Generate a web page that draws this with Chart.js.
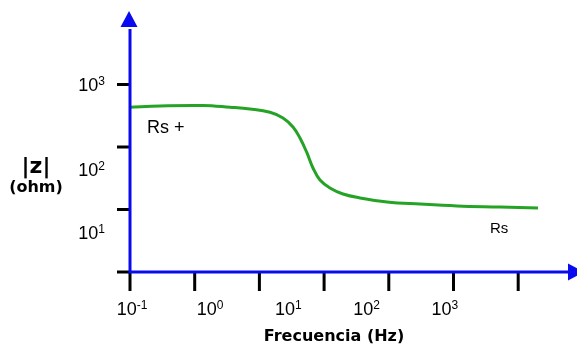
<!DOCTYPE html>
<html>
<head>
<meta charset="utf-8">
<script src="https://cdn.jsdelivr.net/npm/chart.js@4/dist/chart.umd.min.js"></script>
<style>
  html, body { margin: 0; padding: 0; background: #fff; }
  #wrap { width: 577px; height: 345px; }
</style>
</head>
<body>
<div id="wrap"><canvas id="bode" width="577" height="345"></canvas></div>
<script>
// Impedance magnitude |Z| (ohm) against frequency (Hz)
const freqHz = [0.1, 0.242, 0.858, 1.9, 3.43, 6.17, 9.05, 12.15, 14.93, 18.35, 21.9, 26.9, 36.1, 53.0, 87.4, 193.6, 512, 1521, 5395, 16520];
const impedanceOhm = [432, 453, 461, 432, 405, 359, 291, 209, 139, 80.2, 46.1, 29.6, 22.1, 17.7, 15.3, 13.2, 12.2, 11.4, 10.96, 10.57];

// Decade labels on each axis (powers of ten)
const xTickExponents = [-1, 0, 1, 2, 3];
const yTickExponents = [3, 2, 1];

// Texts
const xTitle = 'Frecuencia (Hz)';
const yTitle = ['|z|', '(ohm)'];
const curveNotes = ['Rs +', 'Rs'];

const LABEL_FONT = '"Liberation Sans", Arial, sans-serif';
const TITLE_FONT = '"DejaVu Sans", Verdana, sans-serif';

// draws "10" with a raised exponent; xPos is the centre or right edge
function drawPower(ctx, exp, xPos, baseline, align) {
  const base = '10', sup = String(exp);
  ctx.font = '18px ' + LABEL_FONT;
  const wb = ctx.measureText(base).width;
  ctx.font = '12px ' + LABEL_FONT;
  const ws = ctx.measureText(sup).width;
  const left = align === 'center' ? xPos - (wb + ws) / 2 : xPos - (wb + ws);
  ctx.textAlign = 'left';
  ctx.textBaseline = 'alphabetic';
  ctx.font = '18px ' + LABEL_FONT;
  ctx.fillText(base, left, baseline);
  ctx.font = '12px ' + LABEL_FONT;
  ctx.fillText(sup, left + wb, baseline - 6);
}

// axes with arrowheads, tick marks, decade labels and titles
const bodeAxes = {
  id: 'bodeAxes',
  afterDatasetsDraw(chart, args, o) {
    const { ctx, chartArea: a, scales: { x, y } } = chart;
    ctx.save();

    // black tick marks
    ctx.strokeStyle = o.tickColor;
    ctx.lineWidth = 3;
    ctx.lineCap = 'butt';
    ctx.beginPath();
    for (let e = 0; e <= 3; e++) {
      const py = y.getPixelForValue(Math.pow(10, e));
      ctx.moveTo(a.left - 13, py);
      ctx.lineTo(a.left, py);
    }
    for (let k = 0; k < o.markCount; k++) {
      const px = x.getPixelForValue(Math.pow(10, -1 + k * o.markStep));
      ctx.moveTo(px, a.bottom);
      ctx.lineTo(px, a.bottom + 19);
    }
    ctx.stroke();

    // blue axis lines
    ctx.strokeStyle = o.axisColor;
    ctx.fillStyle = o.axisColor;
    ctx.beginPath();
    ctx.moveTo(a.left, a.bottom + 1.5);
    ctx.lineTo(a.left, a.top + 2);
    ctx.moveTo(a.left - 1.5, a.bottom);
    ctx.lineTo(a.right + 2, a.bottom);
    ctx.stroke();

    // arrowheads
    ctx.beginPath();
    ctx.moveTo(a.left - 9.5, a.top);
    ctx.lineTo(a.left + 7.5, a.top);
    ctx.lineTo(a.left - 1, a.top - 16);
    ctx.closePath();
    ctx.fill();
    ctx.beginPath();
    ctx.moveTo(a.right, a.bottom - 8.5);
    ctx.lineTo(a.right, a.bottom + 8.5);
    ctx.lineTo(a.right + 16, a.bottom);
    ctx.closePath();
    ctx.fill();

    // decade labels
    ctx.fillStyle = o.textColor;
    xTickExponents.forEach(e => {
      drawPower(ctx, e, x.getPixelForValue(Math.pow(10, e)) + 2, a.bottom + 43, 'center');
    });
    yTickExponents.forEach((e, i) => {
      drawPower(ctx, e, a.left - 25, y.getPixelForValue(Math.pow(10, e)) + 7 + o.yLabelDrop[i], 'right');
    });

    // axis titles
    ctx.textAlign = 'center';
    ctx.textBaseline = 'alphabetic';
    ctx.font = 'bold 22px ' + TITLE_FONT;
    ctx.fillText(yTitle[0], 36, 173);
    ctx.font = 'bold 16px ' + TITLE_FONT;
    ctx.fillText(yTitle[1], 36, 192);
    ctx.font = 'bold 16px ' + TITLE_FONT;
    ctx.fillText(xTitle, 334, 341);

    // notes beside the curve
    ctx.textAlign = 'left';
    ctx.font = '18px ' + LABEL_FONT;
    ctx.fillText(curveNotes[0], x.getPixelForValue(o.noteAt[0][0]), y.getPixelForValue(o.noteAt[0][1]));
    ctx.font = '15px ' + LABEL_FONT;
    ctx.fillText(curveNotes[1], x.getPixelForValue(o.noteAt[1][0]), y.getPixelForValue(o.noteAt[1][1]));

    ctx.restore();
  }
};

new Chart(document.getElementById('bode'), {
  type: 'line',
  data: {
    datasets: [{
      data: freqHz.map((f, i) => ({ x: f, y: impedanceOhm[i] })),
      borderColor: '#25a325',
      borderWidth: 3,
      pointRadius: 0,
      fill: false,
      tension: 0.4
    }]
  },
  options: {
    responsive: false,
    animation: false,
    events: [],
    layout: { padding: { left: 130, right: 9, top: 27, bottom: 73 } },
    scales: {
      x: { type: 'logarithmic', min: 0.1, max: 40000, display: false },
      y: { type: 'logarithmic', min: 1, max: 8300, display: false }
    },
    plugins: {
      legend: { display: false },
      tooltip: { enabled: false },
      bodeAxes: {
        axisColor: '#0a0af0',
        tickColor: '#000',
        textColor: '#000',
        markCount: 7,
        markStep: 0.8275,
        yLabelDrop: [0, 22, 23],
        noteAt: [[0.165, 167.5], [4020, 4.21]]
      }
    }
  },
  plugins: [bodeAxes]
});
</script>
</body>
</html>
